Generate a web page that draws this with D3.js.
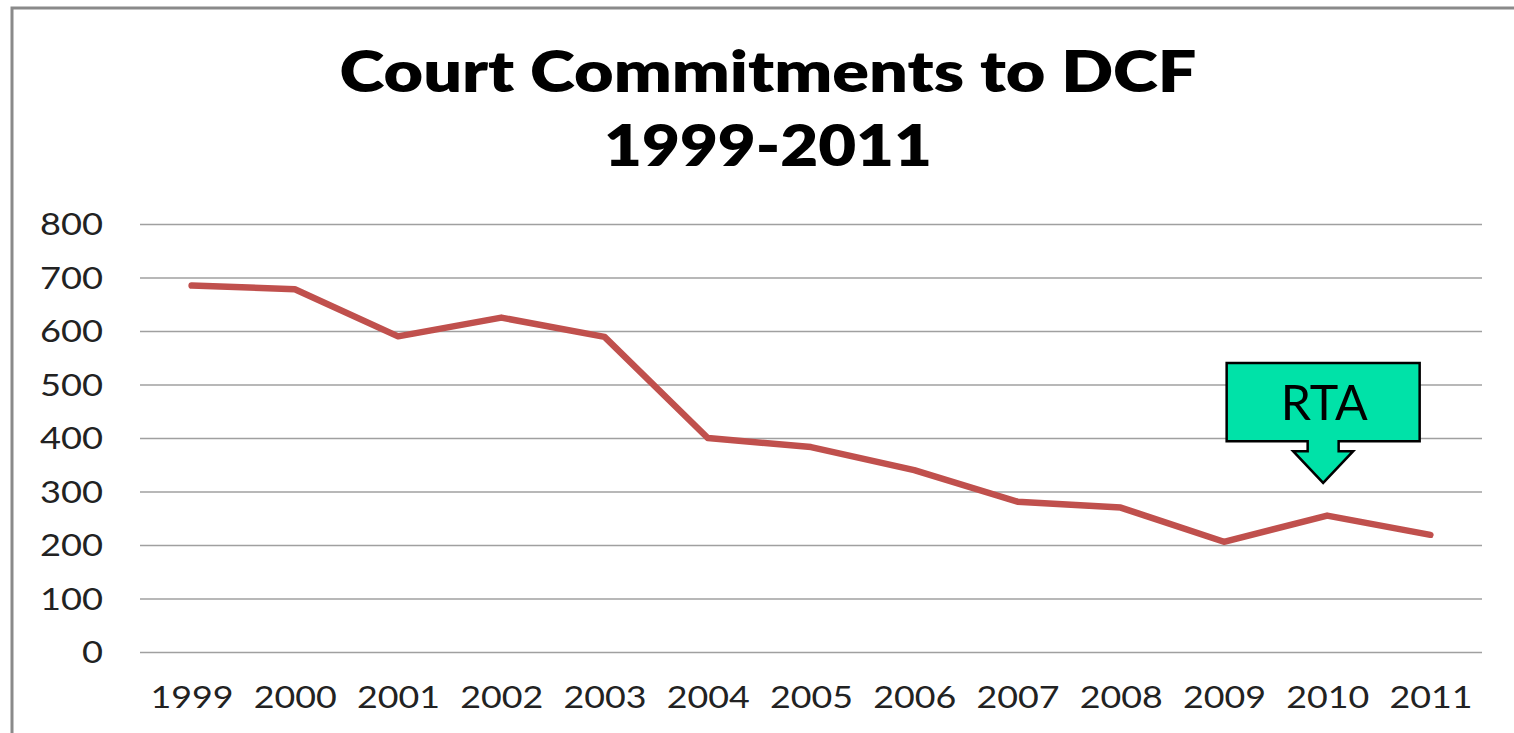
<!DOCTYPE html>
<html>
<head>
<meta charset="utf-8">
<script src="https://cdn.jsdelivr.net/npm/d3@7"></script>
<style>
  html, body { margin: 0; padding: 0; background: #fff; }
  svg { display: block; }
</style>
</head>
<body>
<svg id="chart" width="1514" height="733"></svg>
<script>
const years = ["1999","2000","2001","2002","2003","2004","2005","2006","2007","2008","2009","2010","2011"];
const commitments = [685, 678, 590, 625, 589, 400, 383, 340, 281, 270, 206, 255, 219];
const yTicks = [0, 100, 200, 300, 400, 500, 600, 700, 800];
const titleLines = ["Court Commitments to DCF", "1999-2011"];
const annotationLabel = "RTA";
const annotationYear = "2010";

const svg = d3.select("#chart");
const W = 1514, H = 733;
const plot = { left: 140, right: 1482, top: 224, bottom: 652 };

// outer frame (cropped on right & bottom like the reference)
svg.append("rect")
  .attr("x", 12).attr("y", 8).attr("width", W + 20).attr("height", H + 20)
  .attr("fill", "#fff").attr("stroke", "#8a8a8a").attr("stroke-width", 3);

const x = d3.scalePoint().domain(years).range([plot.left, plot.right]).padding(0.5);
const y = d3.scaleLinear().domain([0, 800]).range([plot.bottom, plot.top]);

// title
const titleFont = "Lato, 'Open Sans', sans-serif";
svg.append("text").attr("x", 768).attr("y", 92)
  .attr("text-anchor", "middle").attr("font-family", titleFont).attr("font-weight", 800)
  .attr("font-size", 56).attr("fill", "#000")
  .attr("textLength", 857).attr("lengthAdjust", "spacingAndGlyphs")
  .text(titleLines[0]);
svg.append("text").attr("x", 768).attr("y", 166)
  .attr("text-anchor", "middle").attr("font-family", titleFont).attr("font-weight", 800)
  .attr("font-size", 56).attr("fill", "#000")
  .attr("textLength", 328).attr("lengthAdjust", "spacingAndGlyphs")
  .text(titleLines[1]);

// gridlines + y labels
const yAxis = d3.axisLeft(y).tickValues(yTicks).tickSize(-(plot.right - plot.left)).tickPadding(37).tickFormat(d3.format("d"));
const gy = svg.append("g").attr("transform", `translate(${plot.left},0)`).call(yAxis);
gy.select(".domain").remove();
gy.selectAll(".tick line").attr("stroke", "#a0a0a0").attr("stroke-width", 1.6);
gy.selectAll(".tick text")
  .attr("font-family", "Lato, 'Open Sans', sans-serif").attr("font-size", 30).attr("fill", "#222")
  .attr("dy", "0.36em")
  .each(function(d) {
    const s = String(d);
    d3.select(this).attr("textLength", s.length * 21).attr("lengthAdjust", "spacingAndGlyphs");
  });

// x axis labels
const xAxis = d3.axisBottom(x).tickSize(0).tickPadding(0);
const gx = svg.append("g").attr("transform", `translate(0,${plot.bottom})`).call(xAxis);
gx.select(".domain").remove();
gx.selectAll(".tick text")
  .attr("font-family", "Lato, 'Open Sans', sans-serif").attr("font-size", 30).attr("fill", "#222")
  .attr("y", 56).attr("dy", 0)
  .attr("textLength", 83).attr("lengthAdjust", "spacingAndGlyphs");

// line
const line = d3.line().x((d, i) => x(years[i])).y(d => y(d));
svg.append("path").datum(commitments)
  .attr("d", line).attr("fill", "none")
  .attr("stroke", "#c0504d").attr("stroke-width", 6.5)
  .attr("stroke-linejoin", "round").attr("stroke-linecap", "round");

// RTA callout arrow
const cx = x(annotationYear) - 4;
const boxTop = y(540), boxBottom = y(394), tipY = y(316);
const shaftBottom = boxBottom + 10;
const bw = 96.5, sw = 15.5, hw = 30;
const pts = [
  [cx - bw, boxTop], [cx + bw, boxTop], [cx + bw, boxBottom],
  [cx + sw, boxBottom], [cx + sw, shaftBottom], [cx + hw, shaftBottom],
  [cx, tipY], [cx - hw, shaftBottom], [cx - sw, shaftBottom],
  [cx - sw, boxBottom], [cx - bw, boxBottom]
];
svg.append("path")
  .attr("d", "M" + pts.map(p => p.join(",")).join("L") + "Z")
  .attr("fill", "#00e2a8").attr("stroke", "#000").attr("stroke-width", 2.5)
  .attr("stroke-linejoin", "miter");
svg.append("text").attr("x", cx + 1).attr("y", y(434))
  .attr("text-anchor", "middle").attr("font-family", "Lato, 'Open Sans', sans-serif")
  .attr("font-size", 49).attr("fill", "#000")
  .attr("textLength", 87).attr("lengthAdjust", "spacingAndGlyphs")
  .text(annotationLabel);
</script>
</body>
</html>
